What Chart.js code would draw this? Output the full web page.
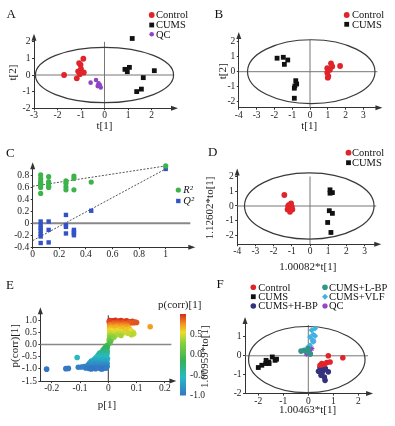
<!DOCTYPE html>
<html>
<head>
<meta charset="utf-8">
<script src="https://cdn.jsdelivr.net/npm/chart.js@4.4.0/dist/chart.umd.min.js"></script>
<style>
  html, body { margin: 0; padding: 0; background: #fff; }
  #wrap { position: relative; width: 395px; height: 426px; overflow: hidden; }
  #wrap canvas { position: absolute; left: 0; top: 0; }
</style>
</head>
<body>
<div id="wrap">
  <canvas id="pa" width="395" height="426"></canvas>
  <canvas id="pb" width="395" height="426"></canvas>
  <canvas id="pc" width="395" height="426"></canvas>
  <canvas id="pd" width="395" height="426"></canvas>
  <canvas id="pe" width="395" height="426"></canvas>
  <canvas id="pf" width="395" height="426"></canvas>
</div>
<script>
// ---- data: [x, y] ----
const A_CONTROL = [[-1.72, 0], [-0.9, 0.98], [-1.02, 0.62], [-1.08, 0.72], [-1.0, 0.36], [-1.12, 0.22], [-0.88, 0.15], [-1.18, -0.2], [-1.05, 0.05]]
const A_CUMS = [[1.18, 2.2], [0.87, 0.34], [1.06, 0.46], [0.97, 0.2], [2.12, 0.26], [1.65, -0.16], [1.57, -0.85], [1.37, -1.0]]
const A_QC = [[-0.59, -0.46], [-0.36, -0.3], [-0.25, -0.5], [-0.16, -0.75], [-0.29, -0.67], [-0.2, -0.6]]

const B_CONTROL = [[0.97, 0.23], [1.18, 0.56], [1.25, 0.35], [0.97, -0.07], [1.03, -0.29], [1.12, 0.13], [1.69, 0.38], [1.0, -0.4]]
const B_CUMS = [[-1.85, 0.9], [-1.5, 0.96], [-1.25, 0.78], [-1.44, 0.49], [-0.8, -0.6], [-0.75, -0.82], [-0.88, -1.1], [-0.85, -0.95], [-0.88, -1.77]]

const C_R2 = [[0.06, 0.81], [0.06, 0.75], [0.06, 0.70], [0.06, 0.67], [0.06, 0.64], [0.06, 0.60], [0.06, 0.50],
  [0.12, 0.78], [0.12, 0.70], [0.12, 0.67], [0.12, 0.62], [0.12, 0.60],
  [0.25, 0.71], [0.25, 0.67], [0.25, 0.61], [0.25, 0.56],
  [0.31, 0.79], [0.31, 0.75], [0.31, 0.56], [0.44, 0.69], [1, 0.96]]
const C_Q2 = [[0.06, 0.03], [0.06, -0.03], [0.06, -0.08], [0.06, -0.12], [0.06, -0.18], [0.06, -0.22], [0.06, -0.33],
  [0.12, 0.03], [0.12, -0.11], [0.12, -0.32],
  [0.25, 0.14], [0.25, -0.03], [0.25, -0.06], [0.25, -0.17],
  [0.31, -0.11], [0.31, -0.14], [0.31, -0.17], [0.31, -0.2], [0.44, 0.21], [1, 0.91]]
const C_R2_LINE = [[0, 0.62], [1, 0.96]]
const C_Q2_LINE = [[0, -0.29], [1, 0.91]]

const D_CONTROL = [[-1.41, 0.75], [-1.15, 0.07], [-1.0, -0.04], [-1.23, -0.23], [-1.1, -0.39], [-0.97, -0.23], [-1.04, 0.18], [-1.2, 0.0], [-1.08, -0.12]]
const D_CUMS = [[1.1, 1.1], [1.23, 0.91], [1.1, 0.87], [1.06, -0.32], [1.23, -0.5], [0.97, -1.12], [1.15, -1.8]]

// S-plot: p[1], p(corr)[1]
const E_POINTS = [
  [0.005, 0.98], [0.015, 0.97], [0.025, 0.99], [0.035, 0.96], [0.045, 0.98], [0.055, 0.95], [0.065, 0.97], [0.075, 0.93],
  [0.085, 0.95], [0.095, 0.92], [0.01, 0.9], [0.02, 0.88], [0.03, 0.91], [0.04, 0.87], [0.05, 0.9], [0.06, 0.86],
  [0.07, 0.89], [0.08, 0.88], [0.09, 0.89], [0.1, 0.9], [0.003, 0.93],
  [0.005, 0.82], [0.015, 0.8], [0.025, 0.83], [0.035, 0.79], [0.045, 0.81], [0.055, 0.77], [0.065, 0.8],
  [0.005, 0.74], [0.015, 0.72], [0.025, 0.75], [0.035, 0.7], [0.045, 0.73], [0.06, 0.7], [0.07, 0.72],
  [0.005, 0.66], [0.015, 0.64], [0.025, 0.67], [0.04, 0.62], [0.05, 0.65], [0.065, 0.6], [0.075, 0.63],
  [0.148, 0.73],
  [0.005, 0.58], [0.015, 0.55], [0.03, 0.57], [0.045, 0.53], [0.08, 0.56], [0.088, 0.5], [0.09, 0.44], [0.082, 0.4],
  [0.005, 0.48], [0.015, 0.45], [0.025, 0.5], [0.04, 0.46], [0.055, 0.48], [0.07, 0.45],
  [0.005, 0.38], [0.015, 0.35], [0.03, 0.4], [0.045, 0.37], [0.005, 0.28], [0.012, 0.24], [0.02, 0.3],
  [0.003, 0.18], [0.008, 0.12], [0.004, 0.05],
  [-0.003, -0.03], [-0.008, -0.08], [-0.004, -0.12], [-0.012, -0.15], [-0.006, -0.2], [-0.018, -0.22], [-0.01, -0.27],
  [-0.022, -0.3], [-0.004, -0.3],
  [-0.03, -0.35], [-0.015, -0.38], [-0.005, -0.4], [-0.035, -0.42], [-0.02, -0.45], [-0.008, -0.48], [-0.04, -0.5],
  [-0.028, -0.53], [-0.012, -0.55], [-0.045, -0.57], [-0.003, -0.58],
  [-0.11, -0.53],
  [-0.05, -0.62], [-0.035, -0.64], [-0.02, -0.62], [-0.006, -0.65], [-0.06, -0.68], [-0.045, -0.7], [-0.028, -0.72],
  [-0.012, -0.7], [-0.065, -0.75], [-0.05, -0.78], [-0.035, -0.76], [-0.018, -0.79], [-0.004, -0.77], [-0.07, -0.82],
  [-0.055, -0.83], [-0.04, -0.84], [-0.025, -0.83], [-0.01, -0.84],
  [-0.085, -0.9], [-0.075, -0.88], [-0.065, -0.92], [-0.05, -0.89], [-0.04, -0.93], [-0.028, -0.9], [-0.015, -0.92],
  [-0.004, -0.9], [-0.08, -0.96], [-0.068, -0.98], [-0.055, -0.96], [-0.045, -0.99], [-0.032, -0.97], [-0.02, -0.99],
  [-0.008, -0.97], [-0.06, -1.0], [-0.025, -1.0], [-0.095, -0.92],
  [-0.106, -0.93], [-0.141, -0.98], [-0.15, -0.99], [-0.218, -1.01]
]

const F_CONTROL = [[0.8, 0], [1.38, -0.1], [0.54, -0.41], [0.74, -0.36], [0.87, -0.33], [0.64, -0.45], [0.47, -0.5]]
const F_CUMS = [[-2.0, -0.62], [-1.86, -0.5], [-1.7, -0.41], [-1.58, -0.33], [-1.44, -0.06], [-1.33, -0.24], [-1.57, -0.41], [-1.27, -0.18], [-1.69, -0.24]]
const F_HBP = [[0.47, -0.62], [0.6, -0.77], [0.41, -0.82], [0.51, -1.03], [0.64, -1.12], [0.67, -1.3], [0.55, -0.9], [0.8, -0.85], [0.68, -0.68]]
const F_LBP = [[-0.29, 0.25], [-0.16, 0.29], [-0.06, 0.23], [0.08, 0.1], [0, 0.38]]
const F_VLF = [[0.13, 1.35], [0.27, 1.44], [0.2, 1.13], [0.07, 1.0], [0.17, 0.83], [0.07, 0.56], [-0.01, 0.47], [0.2, 0.74], [0.27, 1.05]]
const F_QC = [[0.13, 0.38], [0, 0.2], [0.07, 0.1], [-0.07, 0.1], [0.2, 0.77], [0.04, 0.3]]

const TICKS_A_X = [-3, -2, -1, 0, 1, 2]
const TICKS_A_Y = [-2, -1, 0, 1, 2]
const TICKS_BD_X = [-4, -3, -2, -1, 0, 1, 2, 3]
const TICKS_BD_Y = [-2, -1, 0, 1, 2]
const TICKS_C_X = [0, 0.2, 0.4, 0.6, 0.8, 1]
const TICKS_C_Y = [-0.4, -0.2, 0, 0.2, 0.4, 0.6, 0.8]
const TICKS_E_X = [-0.2, -0.1, 0, 0.1, 0.2]
const TICKS_E_Y = [-1.5, -1, -0.5, 0, 0.5, 1]
const TICKS_F_X = [-2, -1, 0, 1, 2]
const TICKS_F_Y = [-2, -1, 0, 1]
const CBAR_TICKS = [0.5, 0, -0.5, -1]

// ---- styling ----
const W = 395, H = 426
const SERIF = "'Liberation Serif', 'Times New Roman', serif"
const TICK_FONT = { family: SERIF, size: 9.5 }
const TITLE_FONT = { family: SERIF, size: 11 }
const LH = 11 * 1.2
const AXIS = '#333'

const CMAP = [[-1, [52, 118, 196]], [-0.55, [38, 186, 196]], [-0.15, [52, 178, 84]], [0.3, [140, 208, 62]],
  [0.55, [236, 220, 44]], [0.75, [244, 150, 32]], [1, [214, 40, 30]]]

function cmap(v) {
  if (v <= CMAP[0][0]) return 'rgb(' + CMAP[0][1] + ')'
  for (let i = 1; i < CMAP.length; i++) {
    if (v <= CMAP[i][0]) {
      const [v0, c0] = CMAP[i - 1], [v1, c1] = CMAP[i]
      const t = (v - v0) / (v1 - v0)
      return 'rgb(' + c0.map((c, k) => Math.round(c + (c1[k] - c) * t)).join(',') + ')'
    }
  }
  return 'rgb(' + CMAP[CMAP.length - 1][1] + ')'
}

const pts = arr => arr.map(p => ({ x: p[0], y: p[1] }))

function ser(label, arr, style, color, r) {
  return {
    label, data: pts(arr), pointStyle: style, pointRadius: r, pointHoverRadius: r,
    backgroundColor: color, borderColor: color,
    pointBorderWidth: style === 'star' ? 1.3 : 0, clip: false
  }
}

function fitLine(arr) {
  return { label: '', data: pts(arr), showLine: true, pointRadius: 0, borderColor: '#555', borderWidth: 1, borderDash: [2, 1.5], clip: false, order: 5 }
}

const decor = {
  id: 'decor',
  beforeDatasetsDraw(chart, args, o) {
    const { ctx, chartArea: a, scales: { x, y } } = chart
    ctx.save()
    if (o.zeroX) {
      const px = x.getPixelForValue(0)
      ctx.beginPath(); ctx.moveTo(px, a.top + 5); ctx.lineTo(px, a.bottom)
      ctx.strokeStyle = o.zeroX.color; ctx.lineWidth = o.zeroX.width; ctx.stroke()
    }
    if (o.zeroY) {
      const py = y.getPixelForValue(0)
      ctx.beginPath(); ctx.moveTo(a.left, py); ctx.lineTo(a.right - 2, py)
      ctx.strokeStyle = o.zeroY.color; ctx.lineWidth = o.zeroY.width; ctx.stroke()
    }
    if (o.ellipse) {
      const e = o.ellipse
      const cx = x.getPixelForValue(e.cx), cy = y.getPixelForValue(e.cy)
      const rx = Math.abs(x.getPixelForValue(e.cx + e.rx) - cx)
      const ry = Math.abs(y.getPixelForValue(e.cy + e.ry) - cy)
      ctx.beginPath(); ctx.ellipse(cx, cy, rx, ry, 0, 0, Math.PI * 2)
      ctx.strokeStyle = '#3a3a3a'; ctx.lineWidth = 1.2; ctx.stroke()
    }
    ctx.restore()
  },
  afterDraw(chart, args, o) {
    const { ctx, chartArea: a } = chart
    ctx.save()
    // arrow heads on the axes
    ctx.fillStyle = AXIS
    ctx.beginPath(); ctx.moveTo(a.left, a.top - 3); ctx.lineTo(a.left - 2.5, a.top + 4); ctx.lineTo(a.left + 2.5, a.top + 4); ctx.fill()
    ctx.beginPath(); ctx.moveTo(a.right + 3, a.bottom); ctx.lineTo(a.right - 4, a.bottom - 2.5); ctx.lineTo(a.right - 4, a.bottom + 2.5); ctx.fill()
    // panel letter
    ctx.fillStyle = '#111'
    ctx.font = '13px ' + SERIF
    ctx.textBaseline = 'middle'; ctx.textAlign = 'left'
    ctx.fillText(o.letter[0], o.letter[1], o.letter[2])
    // legend
    ;(o.legend || []).forEach(it => {
      const ds = chart.data.datasets[it.i]
      ctx.fillStyle = ds.backgroundColor; ctx.strokeStyle = ds.borderColor
      ctx.lineWidth = ds.pointBorderWidth || 0
      Chart.helpers.drawPoint(ctx, { pointStyle: ds.pointStyle, radius: ds.pointRadius, rotation: 0, borderWidth: ds.pointBorderWidth || 0 }, it.x, it.y)
      ctx.fillStyle = '#111'
      ctx.font = (it.italic ? 'italic ' : '') + '10.5px ' + SERIF
      ctx.textBaseline = 'middle'; ctx.textAlign = 'left'
      ctx.fillText(ds.label, it.tx, it.y + 0.5)
    })
    // colour bar
    if (o.colorbar) {
      const c = o.colorbar
      const vy = v => c.bottom - (v + 1) / 2 * (c.bottom - c.top)
      const g = ctx.createLinearGradient(0, c.bottom, 0, c.top)
      CMAP.forEach(s => g.addColorStop((s[0] + 1) / 2, 'rgb(' + s[1] + ')'))
      ctx.fillStyle = g
      ctx.fillRect(c.x, c.top, c.w, c.bottom - c.top)
      ctx.fillStyle = '#222'
      ctx.font = '9.5px ' + SERIF
      ctx.textAlign = 'left'; ctx.textBaseline = 'middle'
      CBAR_TICKS.forEach(v => ctx.fillText(v.toFixed(1), c.x + c.w + 4, vy(v)))
      ctx.font = '11px ' + SERIF
      ctx.fillText(c.title, c.titleX, c.titleY)
    }
    ctx.restore()
  }
}

function makeChart(id, p) {
  const k = p.map
  const area = {
    l: k.x0 + p.xMin * k.kx, r: k.x0 + p.xMax * k.kx,
    t: k.y0 - p.yMax * k.ky, b: k.y0 - p.yMin * k.ky
  }
  const yW = p.yTitle ? area.l - (p.yTitleX - LH / 2) : 26
  const xH = p.xTitle ? (p.xTitleY + LH / 2) - area.b : 16
  const axis = (pos, min, max, ticks, fmt, title, size) => ({
    type: 'linear', position: pos, min, max,
    afterBuildTicks: s => { s.ticks = ticks.map(v => ({ value: v })) },
    afterFit: s => { if (pos === 'left') s.width = size; else s.height = size },
    grid: { display: true, drawOnChartArea: false, drawTicks: true, tickLength: 2, color: AXIS, lineWidth: 1 },
    border: { display: true, color: AXIS, width: 1 },
    ticks: { font: TICK_FONT, color: '#222', padding: pos === 'left' ? 1.5 : 0, maxRotation: 0, autoSkip: false, callback: fmt },
    title: { display: !!title, text: title || '', font: TITLE_FONT, color: '#222', padding: 0 }
  })
  return new Chart(document.getElementById(id), {
    type: 'scatter',
    data: { datasets: p.datasets },
    options: {
      responsive: false, animation: false, events: [], devicePixelRatio: 1,
      layout: { padding: { left: area.l - yW, top: area.t, right: W - area.r, bottom: H - area.b - xH } },
      scales: {
        x: axis('bottom', p.xMin, p.xMax, p.xTicks, p.xFmt || (v => String(v)), p.xTitle, xH),
        y: axis('left', p.yMin, p.yMax, p.yTicks, p.yFmt || (v => String(v)), p.yTitle, yW)
      },
      plugins: { legend: { display: false }, tooltip: { enabled: false }, decor: p.decor }
    },
    plugins: [decor]
  })
}

const RED = '#e0242a', BLACK = '#111', PURPLE = '#8e44c4'
const THIN = { color: '#777', width: 1 }

// A: PCA scores
makeChart('pa', {
  map: { x0: 104.5, kx: 23.5, y0: 75, ky: 16.6 },
  xMin: -3, xMax: 3, yMin: -2, yMax: 2.3,
  xTicks: TICKS_A_X, yTicks: TICKS_A_Y,
  xTitle: 't[1]', xTitleY: 126, yTitle: 't[2]', yTitleX: 13,
  datasets: [ser('Control', A_CONTROL, 'circle', RED, 2.9), ser('CUMS', A_CUMS, 'rect', BLACK, 3.4), ser('QC', A_QC, 'circle', PURPLE, 2.3)],
  decor: {
    letter: ['A', 6.5, 15], zeroX: THIN, zeroY: THIN, ellipse: { cx: 0, cy: 0, rx: 2.94, ry: 1.67 },
    legend: [{ i: 0, x: 151.7, y: 15, tx: 156 }, { i: 1, x: 151.7, y: 25, tx: 156 }, { i: 2, x: 151.7, y: 34.3, tx: 156 }]
  }
})

// B: PLS-DA scores
makeChart('pb', {
  map: { x0: 310, kx: 17.8, y0: 71.7, ky: 15 },
  xMin: -4, xMax: 3.9, yMin: -2.4, yMax: 2.45,
  xTicks: TICKS_BD_X, yTicks: TICKS_BD_Y,
  xTitle: 't[1]', xTitleY: 126.5, yTitle: 't[2]', yTitleX: 223,
  datasets: [ser('Control', B_CONTROL, 'circle', RED, 2.9), ser('CUMS', B_CUMS, 'rect', BLACK, 3.4)],
  decor: {
    letter: ['B', 214.5, 15], zeroX: THIN, zeroY: THIN, ellipse: { cx: 0.07, cy: 0, rx: 3.58, ry: 2.13 },
    legend: [{ i: 0, x: 346.7, y: 15, tx: 352 }, { i: 1, x: 346.7, y: 24.3, tx: 352 }]
  }
})

// C: permutation test
makeChart('pc', {
  map: { x0: 32.7, kx: 133, y0: 223.3, ky: 59.75 },
  xMin: 0, xMax: 1.2, yMin: -0.4, yMax: 0.97,
  xTicks: TICKS_C_X, yTicks: TICKS_C_Y,
  datasets: [ser('R²', C_R2, 'circle', '#3cb44a', 2.6), ser('Q²', C_Q2, 'rect', '#3352c8', 3.1), fitLine(C_R2_LINE), fitLine(C_Q2_LINE)],
  decor: {
    letter: ['C', 6, 154], zeroY: { color: '#888', width: 2 },
    legend: [{ i: 0, x: 178.3, y: 190, tx: 183.3, italic: true }, { i: 1, x: 178.3, y: 201, tx: 183.3, italic: true }]
  }
})

// D: OPLS-DA scores
makeChart('pd', {
  map: { x0: 310, kx: 18.2, y0: 206, ky: 14.7 },
  xMin: -4, xMax: 3.75, yMin: -2.6, yMax: 2.35,
  xTicks: TICKS_BD_X, yTicks: TICKS_BD_Y,
  xTitle: '1.00082*t[1]', xTitleY: 267, yTitle: '1.12602*to[1]', yTitleX: 210,
  datasets: [ser('Control', D_CONTROL, 'circle', RED, 2.9), ser('CUMS', D_CUMS, 'rect', BLACK, 3.4)],
  decor: {
    letter: ['D', 208, 152.7], zeroX: THIN, zeroY: THIN, ellipse: { cx: -0.04, cy: 0, rx: 3.56, ry: 2.25 },
    legend: [{ i: 0, x: 348.5, y: 152.7, tx: 352 }, { i: 1, x: 348.5, y: 162.7, tx: 352 }]
  }
})

// E: S-plot
makeChart('pe', {
  map: { x0: 108.3, kx: 283, y0: 344.5, ky: 24.4 },
  xMin: -0.24, xMax: 0.23, yMin: -1.5, yMax: 1.4,
  xTicks: TICKS_E_X, yTicks: TICKS_E_Y, yFmt: v => v.toFixed(1),
  xTitle: 'p[1]', xTitleY: 405, yTitle: 'p(corr)[1]', yTitleX: 15,
  datasets: [{
    label: 'p(corr)[1]', data: pts(E_POINTS), pointStyle: 'circle', pointRadius: 2.8, pointBorderWidth: 0,
    backgroundColor: c => cmap(c.raw ? c.raw.y : 0), clip: false
  }],
  decor: {
    letter: ['E', 6, 286], zeroX: { color: '#333', width: 1 }, zeroY: { color: '#888', width: 1.6 },
    colorbar: { x: 180, w: 6, top: 314, bottom: 395.5, title: 'p(corr)[1]', titleX: 158, titleY: 305 }
  }
})

// F: PCA scores, all groups
makeChart('pf', {
  map: { x0: 308.3, kx: 25, y0: 355.8, ky: 18.9 },
  xMin: -2.53, xMax: 2.47, yMin: -2, yMax: 1.9,
  xTicks: TICKS_F_X, yTicks: TICKS_F_Y,
  xTitle: '1.00463*t[1]', xTitleY: 410, yTitle: '1.00959*to[1]', yTitleX: 205,
  datasets: [
    ser('Control', F_CONTROL, 'circle', RED, 2.8),
    ser('CUMS', F_CUMS, 'rect', BLACK, 3.4),
    ser('CUMS+H-BP', F_HBP, 'circle', '#35317c', 2.8),
    ser('CUMS+L-BP', F_LBP, 'circle', '#2f9688', 2.8),
    ser('CUMS+VLF', F_VLF, 'rectRot', '#3fb2e4', 3),
    ser('QC', F_QC, 'star', '#9a40c4', 2.8)
  ],
  decor: {
    letter: ['F', 216.5, 285], zeroX: THIN, zeroY: THIN, ellipse: { cx: -0.06, cy: -0.2, rx: 2.33, ry: 1.75 },
    legend: [
      { i: 0, x: 253.3, y: 287.3, tx: 258.3 }, { i: 1, x: 253.3, y: 296.7, tx: 258.3 }, { i: 2, x: 253.3, y: 306, tx: 258.3 },
      { i: 3, x: 325, y: 287.3, tx: 329 }, { i: 4, x: 325, y: 296.7, tx: 329 }, { i: 5, x: 325, y: 306, tx: 329 }
    ]
  }
})
</script>
</body>
</html>
